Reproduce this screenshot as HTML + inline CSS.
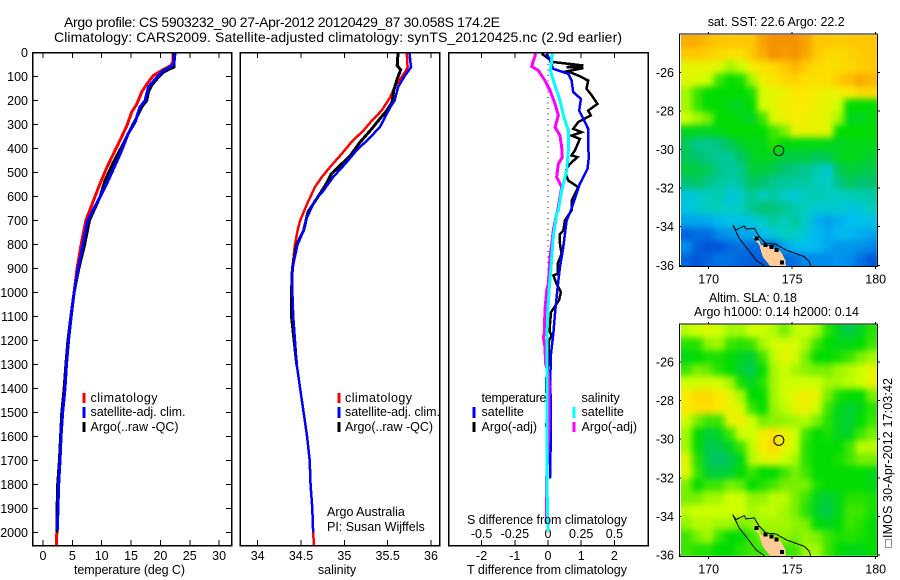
<!DOCTYPE html>
<html lang="en">
<head>
<meta charset="utf-8">
<title>Argo profile CS 5903232_90</title>
<style>
html,body{margin:0;padding:0;background:#fff;width:900px;height:580px;overflow:hidden}
svg{display:block}
text{font-family:"Liberation Sans",sans-serif;font-size:12.5px;fill:#000}
.t{font-size:14px}
.frame{fill:none;stroke:#000;stroke-width:1.5;shape-rendering:crispEdges}
.seg{stroke-width:3;shape-rendering:crispEdges}
.mid{text-anchor:middle}
.end{text-anchor:end}
</style>
</head>
<body>
<svg id="fig" xmlns="http://www.w3.org/2000/svg" width="900" height="580" viewBox="0 0 900 580">
  <defs>
    <filter id="soft" x="-5%" y="-5%" width="110%" height="110%" color-interpolation-filters="sRGB">
      <feGaussianBlur stdDeviation="3.2"/>
    </filter>
  </defs>
  <rect x="0" y="0" width="900" height="580" fill="#fff"/>
  <text class="t" x="64" y="27" textLength="436">Argo profile: CS 5903232_90 27-Apr-2012 20120429_87 30.058S 174.2E</text>
  <text class="t" x="54" y="42" textLength="568">Climatology: CARS2009. Satellite-adjusted climatology: synTS_20120425.nc (2.9d earlier)</text>

  <g id="p1"></g>
  <g id="p2"></g>
  <g id="p3"></g>
  <g id="m1"></g>
  <g id="m2"></g>

  <rect class="frame" x="32.5" y="52.5" width="199" height="493"/>
  <rect class="frame" x="240" y="52.5" width="199.5" height="493"/>
  <rect class="frame" x="448.5" y="52.5" width="199.5" height="493"/>

  <text x="74" y="574" textLength="111">temperature (deg C)</text>
  <text x="337" y="574" class="mid">salinity</text>
  <text x="467" y="574" textLength="160">T difference from climatology</text>
  <text x="467" y="524" textLength="160">S difference from climatology</text>

  <g>
    <line class="seg" x1="84" x2="84" y1="393" y2="403" stroke="#f00"/>
    <line class="seg" x1="84" x2="84" y1="407" y2="418" stroke="#00f"/>
    <line class="seg" x1="84" x2="84" y1="422" y2="432" stroke="#000"/>
    <text x="90.5" y="402" textLength="67">climatology</text>
    <text x="90.5" y="416" textLength="95">satellite-adj. clim.</text>
    <text x="90.5" y="431" textLength="88">Argo(..raw -QC)</text>
  </g>
  <g>
    <line class="seg" x1="339" x2="339" y1="393" y2="403" stroke="#f00"/>
    <line class="seg" x1="339" x2="339" y1="407" y2="418" stroke="#00f"/>
    <line class="seg" x1="339" x2="339" y1="422" y2="432" stroke="#000"/>
    <text x="345" y="402" textLength="67">climatology</text>
    <text x="345" y="416" textLength="95">satellite-adj. clim.</text>
    <text x="345" y="431" textLength="88">Argo(..raw -QC)</text>
  </g>
  <text x="327" y="516">Argo Australia</text>
  <text x="327" y="531">PI: Susan Wijffels</text>

  <g>
    <text x="481.5" y="402" textLength="65">temperature</text>
    <text x="581.5" y="402">salinity</text>
    <line class="seg" x1="474" x2="474" y1="407" y2="418" stroke="#00f"/>
    <line class="seg" x1="474" x2="474" y1="422" y2="432" stroke="#000"/>
    <text x="481.5" y="416">satellite</text>
    <text x="481.5" y="431">Argo(-adj)</text>
    <line class="seg" x1="574" x2="574" y1="407" y2="418" stroke="#0ff"/>
    <line class="seg" x1="574" x2="574" y1="422" y2="432" stroke="#f0f"/>
    <text x="581.5" y="416">satellite</text>
    <text x="581.5" y="431">Argo(-adj)</text>
  </g>

  <text x="707.7" y="26" textLength="137">sat. SST: 22.6 Argo: 22.2</text>
  <text x="709" y="302" textLength="88">Altim. SLA: 0.18</text>
  <text x="694" y="316" textLength="165">Argo h1000: 0.14 h2000: 0.14</text>

  <rect x="885.5" y="539.5" width="6" height="8" fill="#fff" stroke="#222" stroke-width="1" stroke-dasharray="1 1"/>
  <text transform="translate(892 538) rotate(-90)" textLength="160">IMOS 30-Apr-2012 17:03:42</text>
</svg>

<script>
// ---------- shared axis data ----------
const depthTicks = [0,100,200,300,400,500,600,700,800,900,1000,1100,1200,1300,1400,1500,1600,1700,1800,1900,2000];
const tempTicks = [0,5,10,15,20,25,30];
const salTicks = [34,34.5,35,35.5,36];
const salTickLabels = ['34','34.5','35','35.5','36'];
const diffTicks = [-2,-1,0,1,2];
const diffTickLabels = ['-2','-1','0','1','2'];
const salDiffTickLabels = ['-0.5','-0.25','0','0.25','0.5'];
const lonTicks = [170,175,180];
const latTicks = [-26,-28,-30,-32,-34,-36];

// ---------- temperature profiles ----------
const tClimDepth = [0,40,54,71,96,131,165,214,249,304,367,422,478,547,617,700,800,900,1000,1100,1200,1300,1400,1500,1600,1700,1800,1900,2000,2054];
const tClimVal = [22.2,22.1,21.8,20.5,18.8,17.7,16.8,16.0,15.1,14.3,13.1,12.0,10.9,9.7,8.6,7.3,6.5,5.8,5.3,4.8,4.35,4.0,3.75,3.35,3.07,2.9,2.67,2.5,2.35,2.3];
const tSatDepth = [0,47,61,75,103,144,200,228,290,339,408,485,547,617,700,800,900,1000,1100,1200,1300,1400,1500,1600,1700,1800,1900,1990];
const tSatVal = [22.5,22.3,21.65,20.5,19.4,17.95,17.4,16.5,15.7,14.5,13.4,12.0,10.85,9.4,7.6,6.8,6.0,5.3,4.8,4.35,4.0,3.75,3.35,3.07,2.9,2.67,2.55,2.44];
const tArgoDepth = [0,61,68,82,103,137,165,200,228,283,325,380,457,533,603,700,800,900,1000,1100,1200,1300,1400,1500,1600,1700,1800,1900,2000];
const tArgoVal = [22.3,22.3,21.65,20.5,19.66,18.5,17.95,17.67,16.8,15.7,14.8,13.7,12.0,10.57,9.7,7.9,7.1,6.1,5.3,4.75,4.25,3.9,3.6,3.2,3.0,2.8,2.5,2.4,2.35];

// ---------- salinity profiles ----------
const sClimDepth = [0,61,82,144,186,242,283,325,374,422,471,519,561,631,700,742,800,900,1000,1100,1200,1300,1400,1500,1600,1700,1800,1900,2000,2054];
const sClimVal = [35.72,35.73,35.7,35.58,35.53,35.43,35.32,35.22,35.08,34.97,34.85,34.74,34.66,34.57,34.49,34.46,34.43,34.4,34.4,34.41,34.43,34.45,34.49,34.53,34.57,34.6,34.61,34.63,34.64,34.65];
const sSatDepth = [0,61,96,144,200,228,269,311,360,408,464,519,575,617,686,742,800,900,1000,1100,1200,1300,1400,1500,1600,1700,1800,1900,2000];
const sSatVal = [35.75,35.77,35.7,35.62,35.58,35.53,35.47,35.41,35.28,35.14,35.01,34.87,34.76,34.66,34.57,34.53,34.46,34.4,34.4,34.41,34.43,34.45,34.49,34.53,34.57,34.6,34.61,34.63,34.64];
const sArgoDepth = [0,54,72,110,158,207,242,276,325,374,429,464,506,554,610,665,742,800,900,1000,1100,1200,1300];
const sArgoVal = [35.62,35.61,35.65,35.61,35.57,35.55,35.49,35.41,35.30,35.18,35.07,34.97,34.85,34.78,34.68,34.58,34.53,34.45,34.4,34.39,34.39,34.42,34.45];

// ---------- difference profiles ----------
const dTSatDepth = [5,33,68,89,117,165,193,242,318,394,436,485,547,589,617,658,700,811,894,978,1089,1172,1256,1394,1450,1561,1776];
const dTSatVal = [-0.04,0.06,0.16,0.61,0.71,0.76,0.99,0.94,1.21,1.21,1.23,1.19,0.96,0.86,0.79,0.69,0.56,0.46,0.36,0.29,0.21,0.16,0.09,0.06,0.09,0.09,0.06];
const dTArgoDepth = [5,40,54,61,65,78,96,117,151,179,214,242,262,290,318,332,346,360,408,429,436,464,485,506,533,561,589,617,658,700,742,756,797,839,881,922,929,964,999,1033,1082,1131,1165,1179,1200,1270,1297,1367,1408,1464,1561];
const dTArgoVal = [-0.19,0.16,1.06,0.56,1.06,0.59,0.91,1.21,1.16,1.32,1.49,1.21,1.29,0.91,0.76,1.01,0.71,0.96,0.81,0.71,0.89,0.66,0.56,0.53,0.61,0.91,0.81,0.71,0.71,0.51,0.46,0.36,0.36,0.41,0.29,0.29,0.16,0.26,0.39,0.33,0.09,0.06,0.06,0.11,0.03,0.03,0.01,-0.06,-0.06,0.03,-0.06];
const dSArgoDepth = [5,58,75,117,158,214,262,311,346,394,436,464,519,561,603,658,672,742,797,853,908,964,992,1075,1172,1186,1228,1297,1339,1394,1547,1811,1964];
const dSArgoVal = [-0.093,-0.123,-0.073,-0.023,0.015,0.053,0.078,0.053,0.09,0.103,0.108,0.078,0.065,0.103,0.09,0.073,0.065,0.04,0.028,0.015,0.008,0.003,-0.01,-0.023,-0.028,-0.035,-0.023,-0.018,0.003,0.008,0.008,-0.013,-0.013];
const dSSatDepth = [5,75,130,200,262,325,408,491,575,658,672,769,894,992,1089,1200,1394,1797,1992];
const dSSatVal = [0.033,0.018,0.048,0.09,0.116,0.153,0.153,0.141,0.103,0.078,0.065,0.04,0.023,0.008,-0.003,-0.008,-0.008,-0.008,0];

// ---------- map fields (colour-scale level per grid cell) ----------
const sstLevels = [
[10.5,10.5,10.2,10,10,10,10,10.7,11,11,11,10.7,10,10,9.8,10,10,10],
[10,10,9.8,9.5,9.3,9.3,10,10.5,11,10.8,11,10.6,10,9.5,9.5,9.7,9.9,10],
[8.5,8.5,8.5,8.3,7.5,8,8.8,9.3,9.5,10,10.3,9.8,9.5,9.3,9.5,9.6,9.8,10],
[8.3,8.3,8,6.5,6,6.2,7.5,8.7,9.2,9.5,9.7,9.3,9.3,9.3,10,10.2,10.6,10.3],
[7.5,6.5,6,6,6,6,6.2,8.2,8.5,8.6,9.1,9.1,8.8,8.7,8.8,9,9.5,9.5],
[7.5,6.5,6,6,5.8,5.7,6,8,8.5,8.8,9,9,8.7,8.5,8,6,6,6],
[8,7.5,7,6,6,5.8,5.7,6.5,8.3,8.6,8.9,8.8,8.6,8.4,7.5,5.8,5.7,5.9],
[5.7,5.7,5.7,5.8,6,6,6,6,6.5,7,8.6,8.6,8.6,8.4,6,6,6,6],
[5.2,4.6,4.6,4.8,5.2,5.6,5.8,5.8,6.3,5.9,5.9,5.8,5.9,5.8,5.7,5.8,5.8,5.8],
[5.2,5,4.7,4.5,4.5,5.1,5.6,5.8,5.6,5.4,5.4,5.4,5.2,5.3,5.7,5.8,5.7,5.6],
[5.4,5.4,5.2,4.7,4.4,4.6,5.5,5.4,5.3,5,4.8,4.6,4.2,3.6,5.2,5.5,5.4,5.3],
[4.9,5.1,4.7,4.4,4.2,4.5,5.1,5,4.6,4.5,4.4,4.4,4.1,3.9,4.7,5.2,5,5],
[3.4,3.7,4,4.2,3.4,3.8,4.6,4,4.4,3.8,3.6,4,4.2,4,3.9,4.1,4.2,4.3],
[3.3,3.8,4,4,3.8,4,4.6,5,4.8,4.6,4.2,4,3.6,3.7,3.6,3.4,3.6,4],
[2.5,2.5,2.6,2.9,3.3,3.2,3.5,3.8,4.4,4,4.4,3.8,2.7,2.4,2.7,3,3.1,3.2],
[1.2,1.5,1.4,2,2.2,2.5,2.6,3,3.6,4,3.9,3.4,2.9,2.6,2.9,2.9,2.7,2.5],
[2,1.2,1,1,1.4,1.5,1.4,1.4,1.4,2.5,3,3,2.9,2.5,2.2,2.2,2.1,1.9],
[1.3,1,1.3,1.6,1.5,1.3,1.2,1.2,1.2,1.3,1.5,2,2,2,2.2,2,1.5,1.1]];
const slaLevels = [
[7.8,8,8.3,8,7.5,7.5,8,8,7.7,7,7.8,8,7.5,6.3,5.7,5.3,5.7,6.3],
[6.3,6.3,7.3,7.5,6.5,6.3,6.5,7.5,8,8.2,8.2,7.5,6.5,6,5.8,5.8,6,6.5],
[5.8,6,6.2,6.2,6,5.7,5.5,6.5,7.8,8.5,8.2,7,6,6,6.2,6.5,7,7.5],
[6.5,7,6.8,6.3,6,5.5,5.3,6,7.5,8,7.5,7.2,7,7,7.5,7.7,8,8.5],
[8,8,8.2,8,7.5,6.2,5.7,6.3,7.5,8,8,8,8,7.5,7.5,7.8,8,8.7],
[9,9.5,9.5,9,8.5,7.5,6,6,7.5,8,8.5,8.8,8.5,7,6.2,6,6,7],
[9,9.3,9.3,9,8.7,8.2,6.5,6,7.3,7.8,8.5,8.7,8,6.5,5.8,5.5,5.8,6.3],
[8,7,6.5,6.5,8.5,8.8,8,7,7.2,7.3,7.5,7.7,7,6.3,5.7,5.5,6,6.5],
[7.5,6,5.5,5.7,6.5,8,8,8.8,9.3,8.7,8,6.5,6,6.2,5.7,5.7,6.5,7],
[7.5,6,5.3,5.3,5.7,6.5,7.8,9,9.5,8.6,8,6.3,6,6,6,6.5,7.8,7.8],
[8.5,6.3,5.3,5,5.3,5.8,7.7,8.3,8.7,8,7.5,6.3,6,6,6.2,6.5,7,7],
[8.3,6.5,5.5,5.4,5.5,6,6.5,6,6,6.5,7,6.5,6,6,6,6,6,5.8],
[7,6,6.5,6.5,7,6.8,6,6.3,6.6,7,7,7,6.2,6,6,6,6,5.8],
[7,7,7.5,7.5,8,8,7.3,7.3,7.8,7.8,7,6.5,5.7,5.5,5.8,6.3,6.3,6.2],
[7.8,8,8,8,8,8,7.5,7.8,7.8,7.5,7,6.3,5.6,5.3,5.8,6.5,6.5,6.2],
[7.3,7.7,7.7,7.5,7.5,7,7.3,7.5,7.5,7.5,7.3,7,6,5.7,6,6.5,6.3,6],
[6.5,7,7.5,6.5,6,6,6.5,7,7.3,7.3,7,7.3,7,6.5,6.2,6.3,6.2,6],
[6.5,6.3,6.3,6,6,6.3,6.5,6.5,6.5,6.5,6.5,7.5,7.5,6.5,6,5.8,5.8,6]];
const floatLon = [174.2];
const floatLat = [-30.058];
const landLon = [172.63,172.93,173.13,173.83,174.33,174.59,174.63,173.73,173.23,173.03];
const landLat = [-34.52,-34.55,-34.95,-35.04,-35.3,-35.73,-36.1,-36.1,-35.55,-34.95];
const reefLon = [172.85,173.4,174.05,173.75,174.4];
const reefLat = [-34.6,-34.95,-35.2,-35.05,-35.85];
const coastTopLon = [171.44,171.63,172.13,172.23,172.73,173.03,173.43,174.03,174.63,175.72,176.02,176.13];
const coastTopLat = [-33.91,-34.17,-33.96,-34.13,-34.08,-34.52,-34.86,-34.91,-35.21,-35.55,-35.81,-36.1];
const coastLowLon = [171.44,171.83,172.53,172.83,173.43];
const coastLowLat = [-33.91,-34.6,-35.38,-35.73,-36.1];

// ---------- scales ----------
const yDepth = d => 52.5 + d * 0.24;
const xTemp = v => 43 + v * 5.87;
const xSal = v => 257.7 + (v - 34) * 86.65;
const xDiffT = v => 548 + v * 33.2;
const xDiffS = v => 548 + v * 132.8;
const xLon = v => 708.7 + (v - 170) * 16.7;
const yLat1 = v => 72.3 + (-26 - v) * 19.3;
const yLat2 = v => 362 + (-26 - v) * 19.3;

const NS = 'http://www.w3.org/2000/svg';
function mk(tag, parent, attrs){
  const n = document.createElementNS(NS, tag);
  for (const k in attrs) n.setAttribute(k, attrs[k]);
  parent.appendChild(n);
  return n;
}
function traceLine(parent, name, xs, ys, xf, yf, color, w){
  const pts = xs.map((v, i) => xf(v) + ',' + yf(ys[i])).join(' ');
  const el = mk('polyline', parent, {points: pts, fill: 'none', stroke: color, 'stroke-width': w, 'shape-rendering': 'crispEdges', 'stroke-linejoin': 'miter'});
  
  
  return el;
}
function tickMark(parent, x1, y1, x2, y2){
  const el = mk('line', parent, {x1: x1, y1: y1, x2: x2, y2: y2, stroke: '#000', 'stroke-width': 1, 'shape-rendering': 'crispEdges'});
  
  
}
function tickLabel(parent, x, y, str, anchor){
  const el = mk('text', parent, {x: x, y: y, 'text-anchor': anchor});
  el.textContent = str;
  
  
}

// ---------- panel 1 ----------
const p1 = document.getElementById('p1');
depthTicks.forEach(d => {
  tickMark(p1, 33, yDepth(d), 38, yDepth(d));
  tickMark(p1, 226, yDepth(d), 231, yDepth(d));
  tickLabel(p1, 28, yDepth(d) + 4.5, String(d), 'end');
});
tempTicks.forEach(v => {
  tickMark(p1, xTemp(v), 53, xTemp(v), 58);
  tickMark(p1, xTemp(v), 540, xTemp(v), 545);
  tickLabel(p1, xTemp(v), 560, String(v), 'middle');
});
traceLine(p1, 'temperature-climatology-line', tClimVal, tClimDepth, xTemp, yDepth, '#f00', 3);
traceLine(p1, 'temperature-argo-line', tArgoVal, tArgoDepth, xTemp, yDepth, '#000', 3);
traceLine(p1, 'temperature-satellite-line', tSatVal, tSatDepth, xTemp, yDepth, '#00f', 3);

// ---------- panel 2 ----------
const p2 = document.getElementById('p2');
salTicks.forEach((v, i) => {
  tickMark(p2, xSal(v), 53, xSal(v), 58);
  tickMark(p2, xSal(v), 540, xSal(v), 545);
  tickLabel(p2, xSal(v), 560, salTickLabels[i], 'middle');
});
traceLine(p2, 'salinity-climatology-line', sClimVal, sClimDepth, xSal, yDepth, '#f00', 2.5);
traceLine(p2, 'salinity-argo-line', sArgoVal, sArgoDepth, xSal, yDepth, '#000', 3);
traceLine(p2, 'salinity-satellite-line', sSatVal, sSatDepth, xSal, yDepth, '#00f', 2.5);

// ---------- panel 3 ----------
const p3 = document.getElementById('p3');
const zero = mk('line', p3, {x1: xDiffT(0), x2: xDiffT(0), y1: 53, y2: 545, stroke: '#000', 'stroke-width': 1, 'stroke-dasharray': '1 4.5', 'shape-rendering': 'crispEdges'});


diffTicks.forEach((v, i) => {
  tickMark(p3, xDiffT(v), 53, xDiffT(v), 58);
  tickMark(p3, xDiffT(v), 540, xDiffT(v), 545);
  tickLabel(p3, xDiffT(v), 560, diffTickLabels[i], 'middle');
  tickLabel(p3, xDiffT(v), 538, salDiffTickLabels[i], 'middle');
});
traceLine(p3, 'diff-temperature-argo-line', dTArgoVal, dTArgoDepth, xDiffT, yDepth, '#000', 2.5);
traceLine(p3, 'diff-temperature-satellite-line', dTSatVal, dTSatDepth, xDiffT, yDepth, '#00f', 2.5);
traceLine(p3, 'diff-salinity-argo-line', dSArgoVal, dSArgoDepth, xDiffS, yDepth, '#f0f', 3);
traceLine(p3, 'diff-salinity-satellite-line', dSSatVal, dSSatDepth, xDiffS, yDepth, '#0ff', 3);

// ---------- maps ----------
const palette = [[0,40,170],[0,85,215],[0,140,235],[0,190,240],[0,205,190],[0,195,110],[0,220,0],[120,240,0],[205,255,0],[250,235,0],[255,200,0],[245,145,0]];
function levelColor(lv){
  const t = Math.max(0, Math.min(11, lv));
  const i = Math.min(10, Math.floor(t));
  const f = t - i;
  const c = palette[i].map((a, k) => Math.round(a + (palette[i + 1][k] - a) * f));
  return 'rgb(' + c.join(',') + ')';
}
const lonMin = 168.34, lonMax = 180.07, latMax = -24.07, latMin = -36.04;

function drawMap(groupId, field, yLat, reefColor){
  const g = document.getElementById(groupId);
  const nr = field.length;
  const nc = field[0].length;
  const dx = (lonMax - lonMin) / nc;
  const dy = (latMax - latMin) / nr;
  const clipTop = yLat(latMax);
  const clipBottom = yLat(latMin);
  const clip = mk('clipPath', g, {id: groupId + '-clip'});
  mk('rect', clip, {x: xLon(lonMin), y: clipTop, width: xLon(lonMax) - xLon(lonMin), height: clipBottom - clipTop});
  const clipped = mk('g', g, {'clip-path': 'url(#' + groupId + '-clip)'});
  
  
  const cells = mk('g', clipped, {filter: 'url(#soft)'});
  
  
  field.forEach((row, r) => {
    row.forEach((lv, c) => {
      // outermost cells overhang the clip so the smoothing does not fade at the edges
      const x0 = xLon(lonMin + c * dx) - (c === 0 ? 14 : 0);
      const x1 = xLon(lonMin + (c + 1) * dx) + (c === nc - 1 ? 14 : 0);
      const y0 = yLat(latMax - r * dy) - (r === 0 ? 14 : 0);
      const y1 = yLat(latMax - (r + 1) * dy) + (r === nr - 1 ? 14 : 0);
      const cell = mk('rect', cells, {x: x0, y: y0, width: x1 - x0 + 0.6, height: y1 - y0 + 0.6, fill: levelColor(lv), 'shape-rendering': 'crispEdges'});
      
      
    });
  });

  const land = mk('polygon', clipped, {points: landLon.map((v, i) => xLon(v) + ',' + yLat(landLat[i])).join(' '), fill: '#ffcc99', 'shape-rendering': 'crispEdges'});
  
  
  reefLon.forEach((v, i) => {
    const reef = mk('rect', clipped, {x: xLon(v) - 2, y: yLat(reefLat[i]) - 2, width: 4, height: 4, fill: reefColor, 'shape-rendering': 'crispEdges'});
    
    
  });
  traceLine(clipped, 'bathymetry-contour-north', coastTopLon, coastTopLat, xLon, yLat, '#000', 1);
  traceLine(clipped, 'bathymetry-contour-south', coastLowLon, coastLowLat, xLon, yLat, '#000', 1);

  const marker = mk('circle', g, {cx: xLon(floatLon[0]), cy: yLat(floatLat[0]), r: 5, fill: 'none', stroke: '#000', 'stroke-width': 1});
  
  

  const box = mk('polyline', g, {points: '679.5,' + (clipBottom + 1) + ' 679.5,' + (clipTop - 1) + ' 877.5,' + (clipTop - 1), fill: 'none', stroke: '#000', 'stroke-width': 1, 'shape-rendering': 'crispEdges'});
  
  
  const box2 = mk('polyline', g, {points: '679.5,' + (clipBottom + 0.5) + ' 877.5,' + (clipBottom + 0.5) + ' 877.5,' + (clipTop - 1), fill: 'none', stroke: '#000', 'stroke-width': 1, 'shape-rendering': 'crispEdges'});
  
  

  lonTicks.forEach(v => {
    tickMark(g, xLon(v), clipTop - 3, xLon(v), clipTop - 1);
    tickMark(g, xLon(v), clipBottom + 1, xLon(v), clipBottom + 3);
    tickLabel(g, xLon(v), clipBottom + 17.5, String(v), 'middle');
  });
  latTicks.forEach(v => {
    tickMark(g, 680, yLat(v), 681, yLat(v));
    tickMark(g, 878, yLat(v), 880, yLat(v));
    tickLabel(g, 674, yLat(v) + 4.5, String(v), 'end');
  });
}
drawMap('m1', sstLevels, yLat1, '#000');
drawMap('m2', slaLevels, yLat2, '#000');
</script>
</body>
</html>
